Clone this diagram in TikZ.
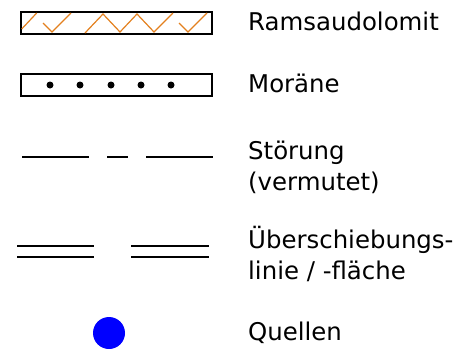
\documentclass[tikz,border=0pt]{standalone}
\usepackage{fontspec}
\setmainfont{DejaVu Sans}
\usetikzlibrary{positioning}
\definecolor{dolorange}{RGB}{227,128,30}

\begin{document}
\begin{tikzpicture}[x=1bp,y=-1bp,
	legtext/.style={anchor=base west,inner sep=0pt,font=\fontsize{24.5}{31}\selectfont,align=left},
	legbox/.style={draw,line width=1.8bp,minimum width=191bp,minimum height=22bp,inner sep=0pt},
	fault/.style={line width=2bp},
	zigzag/.style={dolorange,line width=1.2bp}]
			\useasboundingbox (0,0) rectangle (456,351);
			\node[legbox] (dolomit) at (116.5,23) {};
			\node[legtext] (tdolomit) at (248,30) {Ramsaudolomit};
			\draw[zigzag] (21.7,29) -- (36.7,13);
			\draw[zigzag] (43,23) -- (52,32) -- (71,13);
			\draw[zigzag] (85,33) -- (103,14) -- (120,32) -- (137,14) -- (154,32) -- (173,13);
			\draw[zigzag] (179,23) -- (188,32) -- (207,13);
			\node[legbox] (moraene) at (116.5,85) {};
			\node[legtext] (tmoraene) at (248,92) {Moräne};
			\foreach \x in {50,80,111,141,171}
				\fill (\x,85) circle (3.5bp);
			\coordinate (s1) at (22,157);
			\coordinate (s2) at (89,157);
			\coordinate (s3) at (107,157);
			\coordinate (s4) at (128,157);
			\coordinate (s5) at (146,157);
			\coordinate (s6) at (213,157);
			\draw[fault] (s1) -- (s2);
			\draw[fault] (s3) -- (s4);
			\draw[fault] (s5) -- (s6);
			\node[legtext] (tstoerung) at (248,190) {Störung\\(vermutet)};
			\coordinate (u1) at (17,246);
			\coordinate (u2) at (94,246);
			\coordinate (u3) at (131,246);
			\coordinate (u4) at (209,246);
			\draw[fault] (u1) -- (u2) (u1) ++(0,11) -- ++(77,0);
			\draw[fault] (u3) -- (u4) (u3) ++(0,11) -- ++(78,0);
			\node[legtext] (tueber) at (248,279) {Überschiebungs-\\linie / -fläche};
			\node[circle,fill=blue,minimum size=32bp,inner sep=0pt] (quelle) at (109,333) {};
			\node[legtext] (tquelle) at (248,340) {Quellen};
		\end{tikzpicture}
\end{document}
